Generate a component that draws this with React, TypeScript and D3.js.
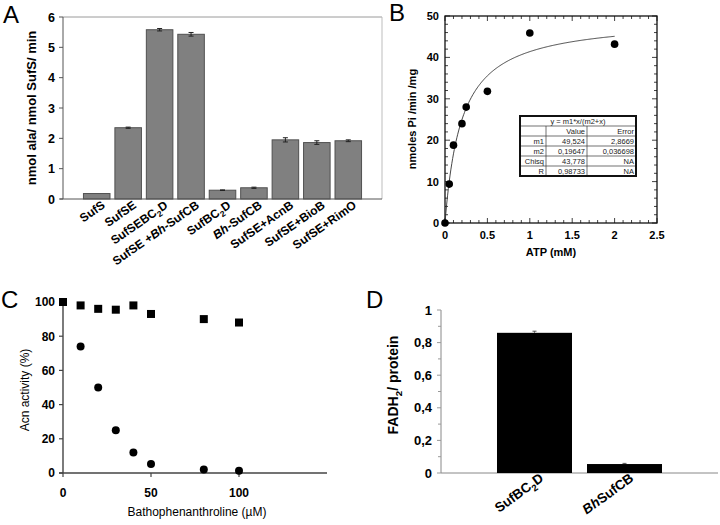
import React from "react";
import * as d3 from "d3";

// ---------- Panel A data ----------
const catsA = ["SufS", "SufSE", "SufSEBC_2D", "SufSE +*Bh*-SufCB", "SufBC_2D", "*Bh*-SufCB", "SufSE+AcnB", "SufSE+BioB", "SufSE+RimO"];
const valsA = [0.18, 2.35, 5.58, 5.43, 0.29, 0.37, 1.95, 1.86, 1.92];
const errA = [0, 0.02, 0.04, 0.06, 0.01, 0.02, 0.07, 0.06, 0.03];
const ticksA = [0, 1, 2, 3, 4, 5, 6];

// ---------- Panel B data ----------
const atpB = [0, 0.05, 0.1, 0.2, 0.25, 0.5, 1, 2];
const rateB = [0, 9.4, 18.8, 24, 28, 31.8, 45.9, 43.2];
const fitM1 = 49.524;
const fitM2 = 0.19647;
const tableHeader = "y = m1*x/(m2+x)";
const tableCols = ["", "Value", "Error"];
const tableRows = [
  ["m1", "49,524", "2,8669"],
  ["m2", "0,19647", "0,036698"],
  ["Chisq", "43,778", "NA"],
  ["R", "0,98733", "NA"],
];
const xTicksB = [0, 0.5, 1, 1.5, 2, 2.5];
const xTickLabelsB = ["0", "0.5", "1", "1.5", "2", "2.5"];
const yTicksB = [0, 10, 20, 30, 40, 50];

// ---------- Panel C data ----------
const concC = [0, 10, 20, 30, 40, 50, 80, 100];
const squaresC = [100, 98, 96, 95.5, 98, 93, 90, 88];
const circlesC = [100, 74, 50, 25, 12, 5.3, 2.1, 1.3];
const xTicksC = [0, 50, 100];
const yTicksC = [0, 20, 40, 60, 80, 100];

// ---------- Panel D data ----------
const catsD = ["SufBC_2D", "*Bh*SufCB"];
const valsD = [0.86, 0.055];
const errD = [0.01, 0.004];
const yTicksD = [0, 0.2, 0.4, 0.6, 0.8, 1];
const yTickLabelsD = ["0", "0,2", "0,4", "0,6", "0,8", "1"];

const FONT = "'Liberation Sans', Arial, Helvetica, sans-serif";

function rich(s: string, fs: number) {
  const tokens = s.split(/(\*[^*]+\*|_\d)/).filter((t) => t.length > 0);
  let shifted = false;
  return tokens.map((t, i) => {
    if (t.startsWith("_")) {
      shifted = true;
      return (
        <tspan key={i} dy={fs * 0.28} fontSize={fs * 0.7}>
          {t.slice(1)}
        </tspan>
      );
    }
    const dy = shifted ? -fs * 0.28 : 0;
    shifted = false;
    if (t.startsWith("*")) {
      return (
        <tspan key={i} dy={dy} fontStyle="italic">
          {t.slice(1, -1)}
        </tspan>
      );
    }
    return (
      <tspan key={i} dy={dy}>
        {t}
      </tspan>
    );
  });
}

function PanelA() {
  const x = d3.scaleBand<string>().domain(catsA).range([81, 364]).paddingInner(0.156).paddingOuter(0.078);
  const y = d3.scaleLinear().domain([0, 6]).range([199, 17]);
  const x0 = 63, x1 = 382;
  return (
    <g>
      <text x={3} y={23} fontSize={24} fontFamily={FONT}>A</text>
      <line x1={x0} x2={x1} y1={y(6)} y2={y(6)} stroke="#9a9a9a" />
      <line x1={x1} x2={x1} y1={y(6)} y2={y(0)} stroke="#bdbdbd" />
      {catsA.map((c, i) => (
        <rect key={c} x={x(c)!} y={y(valsA[i])} width={x.bandwidth()} height={y(0) - y(valsA[i])}
          fill="#808080" stroke="#505050" strokeWidth={1} />
      ))}
      {catsA.map((c, i) => {
        if (!errA[i]) return null;
        const cx = x(c)! + x.bandwidth() / 2;
        return (
          <g key={"e" + c} stroke="#222" strokeWidth={1}>
            <line x1={cx} x2={cx} y1={y(valsA[i] + errA[i])} y2={y(valsA[i] - errA[i])} />
            <line x1={cx - 2.5} x2={cx + 2.5} y1={y(valsA[i] + errA[i])} y2={y(valsA[i] + errA[i])} />
            <line x1={cx - 2.5} x2={cx + 2.5} y1={y(valsA[i] - errA[i])} y2={y(valsA[i] - errA[i])} />
          </g>
        );
      })}
      <line x1={x0} x2={x0} y1={y(6)} y2={y(0)} stroke="#555" />
      <line x1={x0 - 3} x2={x1} y1={y(0)} y2={y(0)} stroke="#555" />
      {ticksA.map((t) => (
        <g key={t}>
          <line x1={x0 - 4} x2={x0} y1={y(t)} y2={y(t)} stroke="#555" />
          <text x={x0 - 8} y={y(t)} dy="0.36em" textAnchor="end" fontSize={12.5} fontWeight="bold" fontFamily={FONT}>{t}</text>
        </g>
      ))}
      {catsA.map((c) => {
        const cx = x(c)! + x.bandwidth() / 2;
        return (
          <text key={"l" + c} transform={`translate(${cx + 9},${207}) rotate(-35)`} textAnchor="end" dy="0.7em"
            fontSize={12} fontWeight="bold" fontFamily={FONT}>
            {rich(c, 12)}
          </text>
        );
      })}
      <text transform={`translate(36,${108}) rotate(-90)`} textAnchor="middle" fontSize={13} fontWeight="bold" fontFamily={FONT}>
        nmol ala/ nmol SufS/ min
      </text>
    </g>
  );
}

function PanelB() {
  const x = d3.scaleLinear().domain([0, 2.5]).range([445, 657]);
  const y = d3.scaleLinear().domain([0, 50]).range([223, 16]);
  const curveX = d3.range(0, 2.0001, 0.01);
  const line = d3.line<number>().x((d) => x(d)).y((d) => y((fitM1 * d) / (fitM2 + d)));
  const minorX = d3.range(0, 26).map((k) => k / 10);
  const minorY = d3.range(0, 26).map((k) => k * 2);
  const tx0 = 520, tx1 = 636, ty0 = 116, rowH = 10;
  const colX = [tx0, 546, 587, tx1];
  const tfs = 7.5;
  return (
    <g>
      <text x={389} y={21} fontSize={24} fontFamily={FONT}>B</text>
      <rect x={x(0)} y={y(50)} width={x(2.5) - x(0)} height={y(0) - y(50)} fill="none" stroke="#111" strokeWidth={1.3} />
      {minorX.map((t, i) => {
        const len = i % 5 === 0 ? 5 : 3;
        return (
          <g key={"mx" + i} stroke="#111" strokeWidth={0.8}>
            <line x1={x(t)} x2={x(t)} y1={y(0)} y2={y(0) - len} />
            <line x1={x(t)} x2={x(t)} y1={y(50)} y2={y(50) + len} />
          </g>
        );
      })}
      {minorY.map((t, i) => {
        const len = i % 5 === 0 ? 5 : 3;
        return (
          <g key={"my" + i} stroke="#111" strokeWidth={0.8}>
            <line x1={x(0)} x2={x(0) + len} y1={y(t)} y2={y(t)} />
            <line x1={x(2.5)} x2={x(2.5) - len} y1={y(t)} y2={y(t)} />
          </g>
        );
      })}
      {xTicksB.map((t, i) => (
        <text key={"xl" + t} x={x(t)} y={239} textAnchor="middle" fontSize={11} fontWeight="bold" fontFamily={FONT}>{xTickLabelsB[i]}</text>
      ))}
      {yTicksB.map((t) => (
        <text key={"yl" + t} x={439} y={y(t)} dy="0.36em" textAnchor="end" fontSize={11} fontWeight="bold" fontFamily={FONT}>{t}</text>
      ))}
      <path d={line(curveX)!} fill="none" stroke="#333" strokeWidth={0.9} />
      {atpB.map((a, i) => (
        <circle key={"p" + i} cx={x(a)} cy={y(rateB[i])} r={3.8} fill="#000" />
      ))}
      <text x={(x(0) + x(2.5)) / 2} y={256} textAnchor="middle" fontSize={11} fontWeight="bold" fontFamily={FONT}>ATP (mM)</text>
      <text transform={`translate(416,${119}) rotate(-90)`} textAnchor="middle" fontSize={11} fontWeight="bold" fontFamily={FONT}>
        nmoles Pi /min /mg
      </text>
      {/* fit table */}
      <g fontFamily={FONT} fontSize={tfs} fill="#222">
        <rect x={tx0} y={ty0} width={tx1 - tx0} height={rowH * 6} fill="#fff" stroke="none" />
        {d3.range(1, 6).map((r) => (
          <line key={"h" + r} x1={tx0} x2={tx1} y1={ty0 + r * rowH} y2={ty0 + r * rowH} stroke="#333" strokeWidth={0.7} />
        ))}
        {[colX[1], colX[2]].map((cx) => (
          <line key={"v" + cx} x1={cx} x2={cx} y1={ty0 + rowH} y2={ty0 + rowH * 6} stroke="#333" strokeWidth={0.7} />
        ))}
        <rect x={tx0} y={ty0} width={tx1 - tx0} height={rowH * 6} fill="none" stroke="#111" strokeWidth={2} />
        <text x={(tx0 + tx1) / 2} y={ty0 + rowH / 2} dy="0.36em" textAnchor="middle">{tableHeader}</text>
        {tableCols.map((c, j) => (
          <text key={"c" + j} x={colX[j + 1] - 2} y={ty0 + rowH * 1.5} dy="0.36em" textAnchor="end">{c}</text>
        ))}
        {tableRows.map((row, r) =>
          row.map((cell, j) => (
            <text key={r + "-" + j} x={colX[j + 1] - 2} y={ty0 + rowH * (r + 2.5)} dy="0.36em" textAnchor="end">{cell}</text>
          ))
        )}
      </g>
    </g>
  );
}

function PanelC() {
  const x = d3.scaleLinear().domain([0, 150]).range([63, 327]);
  const y = d3.scaleLinear().domain([0, 100]).range([473, 302]);
  return (
    <g>
      <text x={1} y={308} fontSize={24} fontFamily={FONT}>C</text>
      <line x1={x(0)} x2={x(0)} y1={y(100)} y2={y(0)} stroke="#444" strokeWidth={1.4} />
      <line x1={x(0) - 4} x2={x(150)} y1={y(0)} y2={y(0)} stroke="#444" strokeWidth={1.6} />
      {yTicksC.map((t) => (
        <g key={t}>
          <line x1={x(0) - 4} x2={x(0)} y1={y(t)} y2={y(t)} stroke="#444" strokeWidth={1.2} />
          <text x={55} y={y(t)} dy="0.36em" textAnchor="end" fontSize={12} fontWeight="bold" fontFamily={FONT}>{t}</text>
        </g>
      ))}
      {xTicksC.map((t) => (
        <g key={"x" + t}>
          <line x1={x(t)} x2={x(t)} y1={y(0)} y2={y(0) + 4} stroke="#444" strokeWidth={1.2} />
          <text x={x(t)} y={497} textAnchor="middle" fontSize={12} fontWeight="bold" fontFamily={FONT}>{t}</text>
        </g>
      ))}
      {concC.map((c, i) => (
        <circle key={"c" + i} cx={x(c)} cy={y(circlesC[i])} r={4} fill="#000" />
      ))}
      {concC.map((c, i) => (
        <rect key={"s" + i} x={x(c) - 4} y={y(squaresC[i]) - 4} width={8} height={8} fill="#000" />
      ))}
      <text x={197} y={516} textAnchor="middle" fontSize={12} fontFamily={FONT}>Bathophenanthroline (µM)</text>
      <text transform={`translate(29,${390}) rotate(-90)`} textAnchor="middle" fontSize={12} fontFamily={FONT}>
        Acn activity (%)
      </text>
    </g>
  );
}

function PanelD() {
  const x = d3.scaleBand<string>().domain(catsD).range([489.5, 669.5]).paddingInner(0.1667).paddingOuter(0.0833);
  const y = d3.scaleLinear().domain([0, 1]).range([473, 310]);
  const minor = d3.range(0, 11).map((k) => k / 10);
  return (
    <g>
      <text x={366} y={308} fontSize={24} fontFamily={FONT}>D</text>
      <line x1={441} x2={441} y1={y(1)} y2={y(0)} stroke="#888" />
      <line x1={441} x2={718} y1={y(0)} y2={y(0)} stroke="#888" />
      {minor.map((t, i) => (
        <line key={"m" + i} x1={441 - (i % 2 === 0 ? 4 : 3)} x2={441} y1={y(t)} y2={y(t)} stroke="#999" />
      ))}
      {yTicksD.map((t, i) => (
        <text key={"t" + i} x={432} y={y(t)} dy="0.36em" textAnchor="end" fontSize={13} fontWeight="bold" fontFamily={FONT}>{yTickLabelsD[i]}</text>
      ))}
      {catsD.map((c, i) => (
        <rect key={c} x={x(c)!} y={y(valsD[i])} width={x.bandwidth()} height={y(0) - y(valsD[i])} fill="#000" />
      ))}
      {catsD.map((c, i) => {
        const cx = x(c)! + x.bandwidth() / 2;
        return (
          <g key={"e" + c} stroke="#555" strokeWidth={1}>
            <line x1={cx} x2={cx} y1={y(valsD[i] + errD[i])} y2={y(valsD[i])} />
            <line x1={cx - 2} x2={cx + 2} y1={y(valsD[i] + errD[i])} y2={y(valsD[i] + errD[i])} />
          </g>
        );
      })}
      {catsD.map((c) => {
        const cx = x(c)! + x.bandwidth() / 2;
        return (
          <text key={"l" + c} transform={`translate(${cx + 10},${480}) rotate(-36)`} textAnchor="end" dy="0.7em"
            fontSize={13.5} fontWeight="bold" fontFamily={FONT}>
            {rich(c, 13.5)}
          </text>
        );
      })}
      <text transform={`translate(398,${385}) rotate(-90)`} textAnchor="middle" fontSize={14} fontWeight="bold" fontFamily={FONT}>
        {rich("FADH_2/ protein", 14)}
      </text>
    </g>
  );
}

export default function App() {
  return (
    <svg width={720} height={525} viewBox="0 0 720 525"
      style={{ position: "absolute", left: 0, top: 0, background: "#fff" }}>
      <rect width={720} height={525} fill="#fff" />
      <PanelA />
      <PanelB />
      <PanelC />
      <PanelD />
    </svg>
  );
}
